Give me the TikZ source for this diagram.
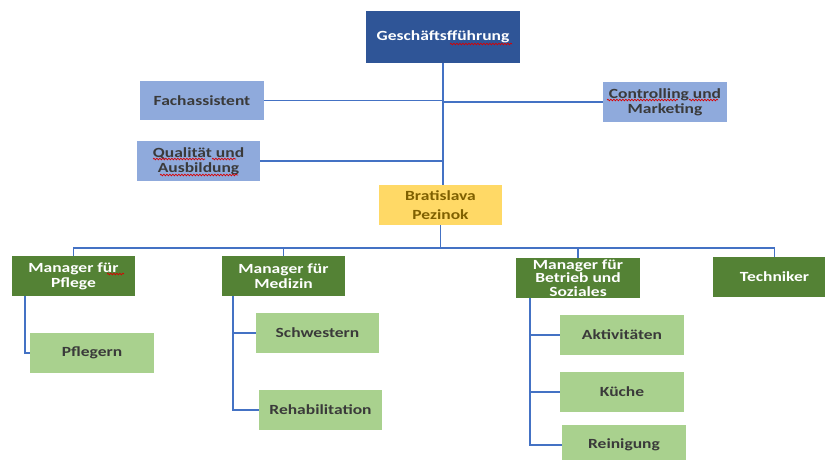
\documentclass[tikz,border=0pt]{standalone}
\usepackage{fontspec}
\setmainfont{Carlito}
\usetikzlibrary{decorations.pathmorphing}
\definecolor{dblue}{HTML}{2F5597}
\definecolor{lblue}{HTML}{8FAADC}
\definecolor{yel}{HTML}{FFD966}
\definecolor{dgreen}{HTML}{548235}
\definecolor{lgreen}{HTML}{A9D18E}
\definecolor{conn}{HTML}{4472C4}
\definecolor{dtext}{HTML}{3A3A3A}
\definecolor{btext}{HTML}{7F6000}
\newcommand\sx[1]{\scalebox{1.25}[1]{#1}}
\tikzset{
  box/.style={inner sep=0pt, minimum width=123pt, minimum height=40pt, align=center,
    font=\bfseries\fontsize{14}{15}\selectfont},
  topbox/.style={box, fill=dblue, text=white},
  staffbox/.style={box, fill=lblue, text=dtext},
  sitebox/.style={box, fill=yel, text=btext},
  mgrbox/.style={box, fill=dgreen, text=white},
  teambox/.style={box, fill=lgreen, text=dtext},
  link/.style={draw=conn, line width=1.5pt},
  squig/.style={draw=red!85!black, line width=0.7pt, decorate,
    decoration={snake, amplitude=0.8pt, segment length=3pt}}
}
\begin{document}
\begin{tikzpicture}[x=1pt,y=-1pt]
\clip (0,0) rectangle (825,459);
\fill[white] (0,0) rectangle (825,459);
% nodes
\node[topbox, minimum width=154pt, minimum height=52pt] (gf) at (443,37) {\sx{Geschäftsfführung}};
\node[staffbox, minimum width=124pt, minimum height=39pt] (fa) at (202,100.5) {\sx{Fachassistent}};
\node[staffbox] (qa) at (198.5,161) {\sx{Qualität und}\\\sx{Ausbildung}};
\node[staffbox, minimum width=124pt] (cm) at (665,102) {\sx{Controlling und}\\\sx{Marketing}};
\node[sitebox, font=\bfseries\fontsize{14}{19}\selectfont] (bp) at (440.5,205) {\sx{Bratislava}\\\sx{Pezinok}};
\node[mgrbox] (mp) at (73.5,276) {\sx{Manager für}\\\sx{Pflege}};
\node[mgrbox] (mm) at (283.5,276) {\sx{Manager für}\\\sx{Medizin}};
\node[mgrbox, minimum width=124pt, font=\bfseries\fontsize{14}{13.5}\selectfont] (mb) at (578,278) {\sx{Manager für}\\\sx{Betrieb und}\\\sx{Soziales}};
\node[mgrbox] (te) at (774.5,277) {\sx{Techniker}};
\node[teambox, minimum width=124pt] (pf) at (92,353) {\sx{Pflegern}};
\node[teambox] (sw) at (317.5,333) {\sx{Schwestern}};
\node[teambox] (rh) at (320.5,410) {\sx{Rehabilitation}};
\node[teambox, minimum width=124pt] (ak) at (622,335) {\sx{Aktivitäten}};
\node[teambox, minimum width=124pt] (ku) at (622,392) {\sx{Küche}};
\node[teambox, minimum width=124pt] (re) at (624,445) {\sx{Reinigung}};
% helper coordinates
\coordinate (bus) at (0,248);
\coordinate (pfx) at (25,0);
\coordinate (mdx) at (233,0);
\coordinate (mbx) at (530,0);
% connectors
\draw[link] (gf.south) -- (gf.south |- bp.north);
\draw[link] (fa.east) -- (fa.east -| gf.south);
\draw[link] (gf.south |- cm.west) -- (cm.west);
\draw[link] (qa.east) -- (qa.east -| gf.south);
\draw[link] (bp.south) -- (bp.south |- bus);
\draw[link] (bp.south |- bus) -| (mp.north);
\draw[link] (bp.south |- bus) -| (mm.north);
\draw[link] (bp.south |- bus) -| (mb.north);
\draw[link] (bp.south |- bus) -| (te.north);
\draw[link] (mp.south -| pfx) |- (pf.west);
\draw[link] (mm.south -| mdx) |- (rh.west);
\draw[link] (mdx |- sw.west) -- (sw.west);
\draw[link] (mb.south -| mbx) |- (re.west);
\draw[link] (mbx |- ak.west) -- (ak.west);
\draw[link] (mbx |- ku.west) -- (ku.west);
% spelling squiggles
\draw[squig] (450,44) -- (512,44);
\draw[squig] (607,100) -- (678,100);
\draw[squig] (689,100) -- (718,100);
\draw[squig] (153,159) -- (205,159);
\draw[squig] (212,159) -- (236,159);
\draw[squig] (160,175) -- (238,175);
\draw[squig] (107,274) -- (124,274);
\end{tikzpicture}
\end{document}
